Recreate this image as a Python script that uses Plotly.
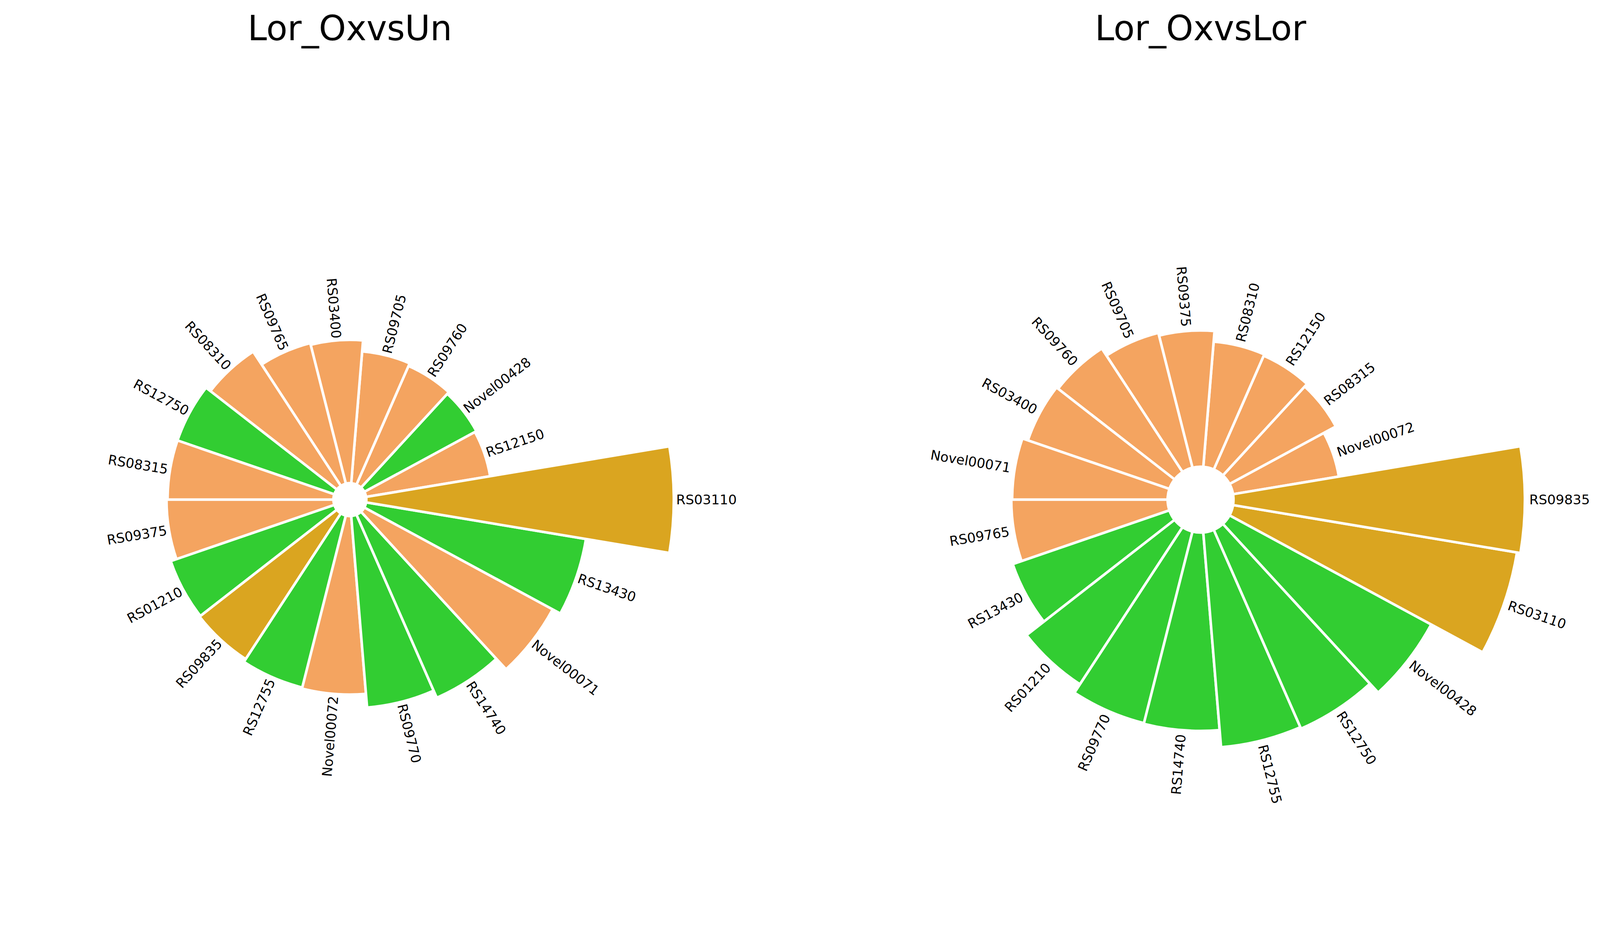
import numpy as np
import plotly.graph_objects as go

# --- data: bars are listed counter-clockwise, the first one sits one step past east ---
un_genes = ["RS12150", "Novel00428", "RS09760", "RS09705", "RS03400", "RS09765", "RS08310",
            "RS12750", "RS08315", "RS09375", "RS01210", "RS09835", "RS12755", "Novel00072",
            "RS09770", "RS14740", "Novel00071", "RS13430", "RS03110"]
un_values = [229, 232, 236, 241, 261, 264, 292, 302, 302, 304,
             315, 317, 323, 325, 350, 364, 390, 406, 560]

lor_genes = ["Novel00072", "RS08315", "RS12150", "RS08310", "RS09375", "RS09705", "RS09760",
             "RS03400", "Novel00071", "RS09765", "RS13430", "RS01210", "RS09770", "RS14740",
             "RS12755", "RS12750", "Novel00428", "RS03110", "RS09835"]
lor_values = [97.7, 110.1, 113.2, 114.4, 124.1, 126.7, 134.5, 136.3, 141.6, 142.4,
              150.9, 170.9, 180.0, 180.6, 196.3, 197.8, 208.9, 262.2, 265.4]

# gene class -> colour
gold_genes = ["RS03110", "RS09835"]
green_genes = ["Novel00428", "RS12750", "RS01210", "RS12755", "RS09770", "RS14740", "RS13430"]
COLORS = {"gold": "#DAA520", "green": "#32CD32", "other": "#F4A460"}

# --- page geometry ---
# the browser only gives 4096 px of width, and the body keeps its 8 px margin
PAGE_W, PAGE_H = 4096, 2373
OFF = 8
FIG_W, FIG_H = PAGE_W - OFF, PAGE_H - OFF
S = PAGE_W / 5003            # shrink factor vs. the original 5003 px wide picture

HOLE = 30                    # inner radius, data units
PAD = 4                      # gap between bar tip and its label, data units
RADIUS = 1050 * S            # polar radius in px
FONT = "DejaVu Sans"
LABEL_SIZE = 42 * S
TITLE_SIZE = 108 * S

CHAR_W = {"R": 0.695, "S": 0.635, "N": 0.748, "o": 0.612, "v": 0.592, "e": 0.615, "l": 0.278}


def text_w(s, size):
    return sum(CHAR_W.get(c, 0.636) for c in s) * size


def paper(xv, yv):
    # page pixel (from top-left) -> paper coordinates
    return (xv - OFF) / FIG_W, 1 - (yv - OFF) / FIG_H


def gene_color(g):
    if g in gold_genes:
        return COLORS["gold"]
    if g in green_genes:
        return COLORS["green"]
    return COLORS["other"]


fig = go.Figure()


def add_panel(name, title, genes, values, cx, cy, rmax):
    n = len(genes)
    step = 360 / n
    theta = [step * (i + 1) for i in range(n)]
    fig.add_trace(go.Barpolar(
        r=values, theta=theta, base=HOLE, width=step, subplot=name,
        marker=dict(color=[gene_color(g) for g in genes], line=dict(color="white", width=8 * S)),
        showlegend=False, hoverinfo="skip",
    ))
    x0, y0 = paper(cx - RADIUS, cy + RADIUS)
    x1, y1 = paper(cx + RADIUS, cy - RADIUS)
    fig.update_layout(**{name: dict(
        domain=dict(x=[x0, x1], y=[y0, y1]),
        bgcolor="white",
        radialaxis=dict(range=[0, rmax], visible=False),
        angularaxis=dict(visible=False, direction="counterclockwise", rotation=0),
    )})

    # labels, rotated along the radius like the matplotlib version
    k = RADIUS / rmax
    for t, v, lab in zip(theta, values, genes):
        a = np.deg2rad(t)
        rr = (HOLE + v + PAD) * k + text_w(lab, LABEL_SIZE) / 2
        rot = t + 180 if 90 <= t < 270 else t
        rot = ((rot + 180) % 360) - 180
        lx, ly = paper(cx + rr * np.cos(a), cy - rr * np.sin(a))
        fig.add_annotation(
            x=lx, y=ly, xref="paper", yref="paper", text=lab, showarrow=False,
            xanchor="center", yanchor="middle", textangle=-rot,
            font=dict(family=FONT, size=LABEL_SIZE, color="black"),
        )

    tx, ty = paper(cx, 73)
    fig.add_annotation(
        x=tx, y=ty, xref="paper", yref="paper", text=title,
        showarrow=False, xanchor="center", yanchor="middle",
        font=dict(family=FONT, size=TITLE_SIZE, color="black"),
    )


# centres follow the reference layout; radial scale per panel (px per unit) from the hole size
add_panel("polar", "Lor_OxvsUn", un_genes, un_values, 1094 * S, 1279, RADIUS / (1.7167 * S))
add_panel("polar2", "Lor_OxvsLor", lor_genes, lor_values, 3754 * S, 1279, RADIUS / (3.433 * S))

fig.update_layout(
    width=FIG_W, height=FIG_H,
    margin=dict(l=0, r=0, t=0, b=0),
    paper_bgcolor="white", plot_bgcolor="white",
)

fig.write_html("out.html")
